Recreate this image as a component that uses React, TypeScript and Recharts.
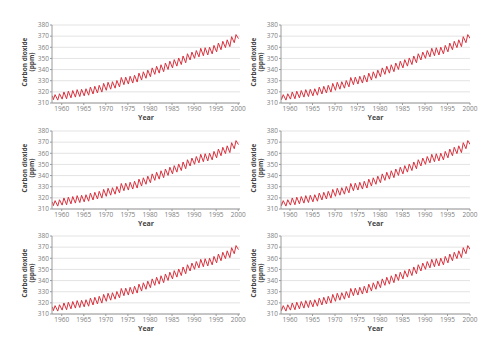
import React from "react";
import { LineChart, Line, XAxis, YAxis, CartesianGrid } from "recharts";

// Mauna Loa CO2 record (ppm)
const years = [
  1958, 1959, 1960, 1961, 1962, 1963, 1964, 1965, 1966, 1967, 1968, 1969, 1970, 1971,
  1972, 1973, 1974, 1975, 1976, 1977, 1978, 1979, 1980, 1981, 1982, 1983, 1984, 1985,
  1986, 1987, 1988, 1989, 1990, 1991, 1992, 1993, 1994, 1995, 1996, 1997, 1998, 1999,
];
const winterLows = [
  313.0, 312.6, 313.5, 313.8, 314.6, 315.3, 315.8, 316.4, 317.0, 318.1, 319.0, 319.8, 321.4, 322.4,
  323.3, 324.5, 326.4, 327.0, 327.9, 328.8, 330.6, 332.2, 333.6, 335.7, 336.8, 338.1, 340.1, 341.5,
  343.1, 344.5, 346.1, 348.6, 350.1, 351.4, 352.4, 353.1, 354.1, 355.9, 357.8, 359.7, 360.6, 364.1,
];
const springHighs = [
  317.5, 318.3, 319.9, 320.6, 321.2, 322.0, 322.3, 322.8, 324.3, 325.0, 325.9, 327.6, 328.6, 329.1,
  330.2, 332.9, 333.2, 334.0, 334.9, 336.8, 338.0, 339.5, 341.5, 343.0, 344.3, 345.9, 347.5, 348.9,
  350.4, 352.2, 354.2, 355.7, 357.1, 359.1, 359.6, 360.1, 361.7, 363.8, 365.4, 366.7, 369.5, 371.4,
];
const firstReading = { year: 1957.9, co2: 316.4 };
const lastReading = { year: 2000.05, co2: 367.8 };
const lowOffset = 0.1;
const highOffset = 0.5;

const yearTicks = [1960, 1965, 1970, 1975, 1980, 1985, 1990, 1995, 2000];
const co2Ticks = [310, 320, 330, 340, 350, 360, 370, 380];

const series = [firstReading];
years.forEach((y, i) => {
  series.push({ year: y + lowOffset, co2: winterLows[i] });
  series.push({ year: y + highOffset, co2: springHighs[i] });
});
series.push(lastReading);

const font = "'Open Sans', 'Noto Sans', sans-serif";
const tickStyle = { fontSize: 6.5, fill: "#808080", fontFamily: font };

const YLabel = ({ viewBox }: any) => {
  const cx = viewBox.x + viewBox.width - 24;
  const cy = viewBox.y + viewBox.height / 2 - 2;
  return (
    <text
      transform={`rotate(-90, ${cx}, ${cy})`}
      x={cx}
      y={cy}
      textAnchor="middle"
      fontSize={6.5}
      fontWeight="bold"
      fill="#444"
      fontFamily={font}
    >
      <tspan x={cx} dy={-1.5}>Carbon dioxide</tspan>
      <tspan x={cx} dy={7.5}>(ppm)</tspan>
    </text>
  );
};

const XLabel = ({ viewBox }: any) => (
  <text
    x={viewBox.x + viewBox.width / 2}
    y={viewBox.y + 17}
    textAnchor="middle"
    fontSize={7}
    fontWeight="bold"
    fill="#444"
    fontFamily={font}
  >
    Year
  </text>
);

type PanelProps = { plotLeft: number; plotTop: number; plotW: number; plotH: number; domain: [number, number] };

const Panel = ({ plotLeft, plotTop, plotW, plotH, domain }: PanelProps) => (
  <div style={{ position: "absolute", left: plotLeft - 52, top: plotTop - 10 }}>
    <LineChart
      width={52 + plotW + 8}
      height={10 + plotH + 30}
      data={series}
      margin={{ top: 10, right: 8, left: 0, bottom: 0 }}
    >
      <CartesianGrid vertical={false} stroke="#dcdcdc" strokeWidth={0.8} />
      <XAxis
        dataKey="year"
        type="number"
        domain={domain}
        allowDataOverflow
        ticks={yearTicks}
        interval={0}
        height={30}
        tick={tickStyle}
        tickSize={2}
        tickMargin={1}
        stroke="#9a9a9a"
        label={<XLabel />}
      />
      <YAxis
        type="number"
        domain={[310, 380]}
        allowDataOverflow
        ticks={co2Ticks}
        interval={0}
        width={52}
        tick={tickStyle}
        tickSize={2}
        tickMargin={1}
        stroke="#9a9a9a"
        label={<YLabel />}
      />
      <Line
        type="linear"
        dataKey="co2"
        stroke="#d8323e"
        strokeWidth={1}
        dot={false}
        isAnimationActive={false}
      />
    </LineChart>
  </div>
);

const rowTops = [25, 131, 236];

export default function App() {
  return (
    <div
      style={{
        position: "fixed",
        left: 0,
        top: 0,
        width: 500,
        height: 354,
        background: "#fff",
        overflow: "hidden",
      }}
    >
      {rowTops.map((t) => (
        <React.Fragment key={t}>
          <Panel plotLeft={52} plotTop={t} plotW={188} plotH={78} domain={[1957.8, 2000.4]} />
          <Panel plotLeft={281} plotTop={t} plotW={189} plotH={78} domain={[1958, 2000]} />
        </React.Fragment>
      ))}
    </div>
  );
}
